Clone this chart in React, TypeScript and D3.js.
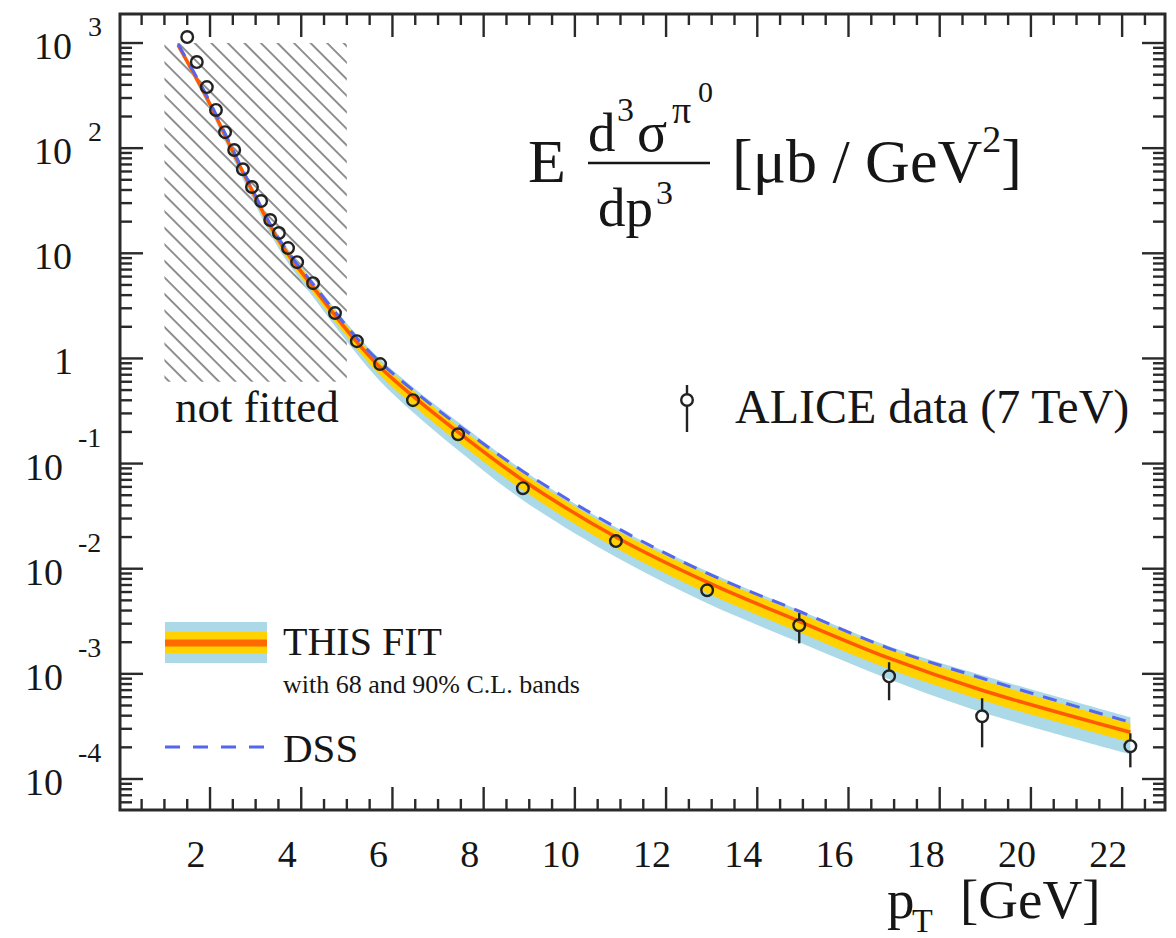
import React from "react";
import * as d3 from "d3";

// ---------- data ----------
const dataPT = [1.50, 1.71, 1.93, 2.13, 2.33, 2.53, 2.72, 2.92, 3.12, 3.32, 3.51, 3.71, 3.91, 4.26, 4.74, 5.22, 5.73, 6.45, 7.44, 8.86, 10.9, 12.9, 14.92, 16.89, 18.93, 22.18];
const dataVal = [1140, 659, 381, 231, 142, 96, 63, 42.7, 31.4, 20.7, 15.6, 11.2, 8.24, 5.20, 2.70, 1.46, 0.883, 0.401, 0.190, 0.0583, 0.0183, 0.00624, 0.00290, 0.000948, 0.000395, 0.000205];
const dataErrHi: (number | null)[] = [null, null, null, null, null, null, null, null, null, null, null, null, null, null, null, null, null, null, null, null, null, null, 0.00378, 0.00129, 0.000586, 0.000272];
const dataErrLo: (number | null)[] = [null, null, null, null, null, null, null, null, null, null, null, null, null, null, null, null, null, null, null, null, null, null, 0.00195, 0.000561, 0.000200, 0.000129];

const fitPT = [1.30, 1.93, 2.72, 3.50, 4.26, 5.22, 5.73, 6.45, 7.44, 8.86, 10.9, 12.9, 14.92, 16.89, 18.93, 22.18];
const fitCentral = [957, 300, 59.3, 13.4, 4.77, 1.43, 0.826, 0.438, 0.199, 0.0695, 0.0200, 0.00744, 0.00316, 0.00141, 0.000698, 0.000278];
const band68Hi = [978, 313, 63.2, 14.3, 5.21, 1.59, 0.922, 0.499, 0.227, 0.0810, 0.0232, 0.00887, 0.00377, 0.00171, 0.000869, 0.000339];
const band68Lo = [916, 281, 54.3, 12.0, 4.18, 1.23, 0.694, 0.359, 0.160, 0.0558, 0.0157, 0.00585, 0.00249, 0.00111, 0.000561, 0.000223];
const band90Hi = [1000, 320, 64.7, 14.9, 5.44, 1.67, 0.985, 0.533, 0.248, 0.0865, 0.0248, 0.00946, 0.00403, 0.00183, 0.000970, 0.000386];
const band90Lo = [896, 269, 50.8, 11.2, 3.83, 1.10, 0.608, 0.308, 0.134, 0.0449, 0.0129, 0.00469, 0.00200, 0.000889, 0.000431, 0.000172];
const dssVal = [978, 313, 61.9, 13.95, 5.09, 1.56, 0.922, 0.499, 0.232, 0.0847, 0.0248, 0.00906, 0.00394, 0.00175, 0.000908, 0.000346];

const xDomain = [0.026, 22.94];
const yDomain = [5.07e-5, 1888];
const xMajorTicks = [2, 4, 6, 8, 10, 12, 14, 16, 18, 20, 22];
const xTickLabels = ["2", "4", "6", "8", "10", "12", "14", "16", "18", "20", "22"];
const yMajorTicks = [1e3, 1e2, 10, 1, 1e-1, 1e-2, 1e-3, 1e-4];
const yTickBase = ["10", "10", "10", "1", "10", "10", "10", "10"];
const yTickExp = ["3", "2", "", "", "-1", "-2", "-3", "-4"];

const notFittedX = [1, 5];
const notFittedY = [0.6, 1000];

const FONT = "'Liberation Serif', 'Times New Roman', serif";

export default function App() {
  const L = 120, R = 1165, T = 14, B = 810;
  const x = d3.scaleLinear().domain(xDomain).range([L, R]);
  const y = d3.scaleLog().domain(yDomain).range([B, T]);

  const xMinor: number[] = d3.range(0.5, 22.95, 0.5).filter((v) => !xMajorTicks.includes(v));
  const yMinor: number[] = [];
  for (let e = -5; e <= 3; e++) {
    for (let k = 2; k <= 9; k++) {
      const v = k * Math.pow(10, e);
      if (v > yDomain[0] && v < yDomain[1]) yMinor.push(v);
    }
  }

  const idx = fitPT.map((_, i) => i);
  const curve = d3.curveCatmullRom.alpha(0.5);
  const area = (hi: number[], lo: number[]) =>
    d3
      .area<number>()
      .x((i) => x(fitPT[i]))
      .y0((i) => y(lo[i]))
      .y1((i) => y(hi[i]))
      .curve(curve)(idx) || "";
  const line = (vals: number[]) =>
    d3
      .line<number>()
      .x((i) => x(fitPT[i]))
      .y((i) => y(vals[i]))
      .curve(curve)(idx) || "";

  const frameColor = "#2a2a2a";
  const tickW = 2.4;
  const textColor = "#161616";

  return (
    <svg width={1176} height={938} style={{ position: "absolute", left: 0, top: 0, background: "#fff" }}>
      <defs>
        <pattern id="hatch" patternUnits="userSpaceOnUse" width={11.7} height={11.7} patternTransform="rotate(-45)">
          <line x1={2} y1={0} x2={2} y2={11.7} stroke="#858585" strokeWidth={1.8} />
        </pattern>
        <clipPath id="plotClip">
          <rect x={L} y={T} width={R - L} height={B - T} />
        </clipPath>
      </defs>

      {/* hatched "not fitted" region */}
      <rect
        x={x(notFittedX[0])}
        y={y(notFittedY[1])}
        width={x(notFittedX[1]) - x(notFittedX[0])}
        height={y(notFittedY[0]) - y(notFittedY[1])}
        fill="url(#hatch)"
      />

      <g clipPath="url(#plotClip)">
        <path d={area(band90Hi, band90Lo)} fill="#acd9e8" />
        <path d={area(band68Hi, band68Lo)} fill="#ffd200" />
        <path d={line(fitCentral)} fill="none" stroke="#ff5a00" strokeWidth={3.5} />
        <path d={line(dssVal)} fill="none" stroke="#5566ee" strokeWidth={3} strokeDasharray="14,10" />
      </g>

      {/* data points */}
      <g>
        {dataPT.map((p, i) => {
          const cx = x(p), cy = y(dataVal[i]);
          const hi = dataErrHi[i], lo = dataErrLo[i];
          return (
            <g key={i}>
              {hi !== null && y(hi) < cy - 6 && (
                <line x1={cx} x2={cx} y1={y(hi)} y2={cy - 6} stroke="#222" strokeWidth={2.4} />
              )}
              {lo !== null && y(lo) > cy + 6 && (
                <line x1={cx} x2={cx} y1={cy + 6} y2={y(lo)} stroke="#222" strokeWidth={2.4} />
              )}
              <circle cx={cx} cy={cy} r={5.8} fill="none" stroke="#222" strokeWidth={2.4} />
            </g>
          );
        })}
      </g>

      {/* frame */}
      <rect x={L} y={T} width={R - L} height={B - T} fill="none" stroke={frameColor} strokeWidth={3} />

      {/* ticks */}
      <g stroke={frameColor} strokeWidth={tickW}>
        {xMajorTicks.map((v) => (
          <g key={"xm" + v}>
            <line x1={x(v)} x2={x(v)} y1={B} y2={B - 23} />
            <line x1={x(v)} x2={x(v)} y1={T} y2={T + 23} />
          </g>
        ))}
        {xMinor.map((v) => (
          <g key={"xn" + v}>
            <line x1={x(v)} x2={x(v)} y1={B} y2={B - 11} />
            <line x1={x(v)} x2={x(v)} y1={T} y2={T + 11} />
          </g>
        ))}
        {yMajorTicks.map((v) => (
          <g key={"ym" + v}>
            <line x1={L} x2={L + 23} y1={y(v)} y2={y(v)} />
            <line x1={R} x2={R - 23} y1={y(v)} y2={y(v)} />
          </g>
        ))}
        {yMinor.map((v) => (
          <g key={"yn" + v}>
            <line x1={L} x2={L + 12} y1={y(v)} y2={y(v)} />
            <line x1={R} x2={R - 12} y1={y(v)} y2={y(v)} />
          </g>
        ))}
      </g>

      {/* x tick labels */}
      <g fontFamily={FONT} fontSize={38} fill={textColor} textAnchor="middle">
        {xMajorTicks.map((v, i) => (
          <text key={"xl" + v} x={x(v) - 14} y={867}>
            {xTickLabels[i]}
          </text>
        ))}
      </g>

      {/* y tick labels */}
      <g fontFamily={FONT} fill={textColor}>
        {yMajorTicks.map((v, i) => {
          const yy = y(v) + 16;
          const exp = yTickExp[i];
          if (exp === "") {
            return (
              <text key={"yl" + v} x={yTickBase[i] === "1" ? 73 : 72} y={yy} fontSize={38} textAnchor="end">
                {yTickBase[i]}
              </text>
            );
          }
          const neg = exp.startsWith("-");
          return (
            <g key={"yl" + v}>
              <text x={neg ? 63 : 72} y={yy} fontSize={38} textAnchor="end">
                {yTickBase[i]}
              </text>
              <text x={neg ? 78 : 88} y={yy - (neg ? 33 : 23)} fontSize={28}>
                {exp}
              </text>
            </g>
          );
        })}
      </g>

      {/* axis title */}
      <g fontFamily={FONT} fill={textColor}>
        <text x={887} y={918} fontSize={55}>p</text>
        <text x={912} y={932} fontSize={34}>T</text>
        <text x={960} y={918} fontSize={55}>[GeV]</text>
      </g>

      {/* formula */}
      <g fontFamily={FONT} fill={textColor}>
        <text x={528} y={182} fontSize={62}>E</text>
        <text x={588} y={151} fontSize={55}>d</text>
        <text x={617} y={121} fontSize={34}>3</text>
        <text x={637} y={151} fontSize={56}>σ</text>
        <text x={672} y={123} fontSize={38}>π</text>
        <text x={698} y={102} fontSize={30}>0</text>
        <line x1={588} x2={710} y1={163} y2={163} stroke={textColor} strokeWidth={2.5} />
        <text x={598} y={226} fontSize={55}>dp</text>
        <text x={656} y={204} fontSize={34}>3</text>
        <text x={732} y={182} fontSize={62}>
          <tspan>[μb / GeV</tspan>
          <tspan dy={-30} fontSize={38}>2</tspan>
          <tspan dy={30}>]</tspan>
        </text>
      </g>

      {/* not fitted label */}
      <text x={175} y={422} fontFamily={FONT} fontSize={45} fill={textColor}>not fitted</text>

      {/* ALICE legend */}
      <g>
        <line x1={687} x2={687} y1={385} y2={394} stroke="#222" strokeWidth={2.4} />
        <line x1={687} x2={687} y1={406} y2={432} stroke="#222" strokeWidth={2.4} />
        <circle cx={687} cy={400} r={5.8} fill="none" stroke="#222" strokeWidth={2.4} />
        <text x={735} y={423} fontFamily={FONT} fontSize={48} fill={textColor}>ALICE data (7 TeV)</text>
      </g>

      {/* THIS FIT legend */}
      <g>
        <rect x={165} y={622} width={102} height={41} fill="#acd9e8" />
        <rect x={165} y={632} width={102} height={21} fill="#ffd200" />
        <rect x={165} y={639.5} width={102} height={7} fill="#ff6a00" />
        <text x={283} y={655} fontFamily={FONT} fontSize={40} fill={textColor}>THIS FIT</text>
        <text x={283} y={693} fontFamily={FONT} fontSize={26} fill={textColor}>with 68 and 90% C.L. bands</text>
      </g>

      {/* DSS legend */}
      <g>
        <line x1={165} x2={267} y1={747} y2={747} stroke="#5566ee" strokeWidth={3} strokeDasharray="15,13" />
        <text x={283} y={762} fontFamily={FONT} fontSize={41} fill={textColor}>DSS</text>
      </g>
    </svg>
  );
}
